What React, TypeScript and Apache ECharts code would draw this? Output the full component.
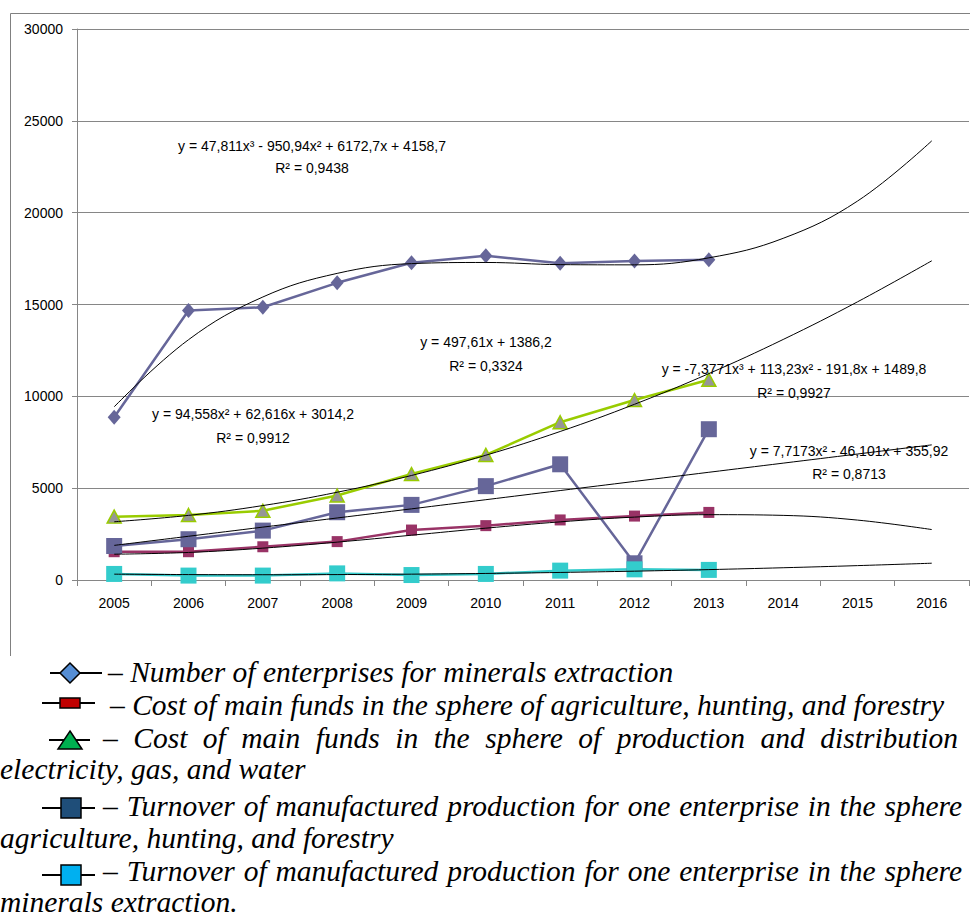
import React, { useEffect, useRef } from "react";
import * as echarts from "echarts";

// ---------- data ----------
const years = ["2005", "2006", "2007", "2008", "2009", "2010", "2011", "2012", "2013", "2014", "2015", "2016"];

const enterprises = [8860, 14670, 14850, 16180, 17270, 17650, 17250, 17370, 17430];
const agriCost = [1540, 1540, 1810, 2090, 2720, 2960, 3270, 3480, 3680];
const energyCost = [3450, 3540, 3770, 4600, 5770, 6810, 8590, 9800, 10900];
const agriTurnover = [1850, 2220, 2690, 3690, 4090, 5110, 6300, 910, 8210];
const minTurnover = [330, 240, 240, 360, 270, 330, 510, 580, 550];

// trend lines (values of the printed trend equations at x = 1..12)
const trendEnterprises = [9428, 13083, 15409, 16694, 17225, 17288, 17171, 17159, 17541, 18603, 20631, 23913];
const trendAgriCost = [1404, 1500, 1734, 2062, 2439, 2822, 3165, 3425, 3557, 3518, 3262, 2746];
const trendEnergyCost = [3171, 3518, 4053, 4778, 5691, 6794, 8086, 9567, 11237, 13096, 15145, 17382];
const trendAgriTurnover = [1884, 2381, 2879, 3377, 3874, 4372, 4870, 5367, 5865, 6362, 6860, 7358];
const trendMinTurnover = [318, 295, 287, 295, 318, 357, 411, 481, 566, 667, 783, 914];

const yMin = 0;
const yMax = 30000;
const yStep = 5000;

const equationTexts = [
  "y = 47,811x³ - 950,94x² + 6172,7x + 4158,7",
  "y = 497,61x + 1386,2",
  "y = 94,558x² + 62,616x + 3014,2",
  "y = -7,3771x³ + 113,23x² - 191,8x + 1489,8",
  "y = 7,7173x² - 46,101x + 355,92",
];
const r2Texts = ["R² = 0,9438", "R² = 0,3324", "R² = 0,9912", "R² = 0,9927", "R² = 0,8713"];

const legendLine1 = "– Number of enterprises for minerals extraction";
const legendLine2 = "– Cost of main funds in the sphere of agriculture, hunting, and forestry";
const legendLine3 = "– Cost of main funds in the sphere of production and distribution";
const legendLine4 = "electricity, gas, and water";
const legendLine5 = "– Turnover of manufactured production for one enterprise in the sphere";
const legendLine6 = "agriculture, hunting, and forestry";
const legendLine7 = "– Turnover of manufactured production for one enterprise in the sphere";
const legendLine8 = "minerals extraction.";

// ---------- layout / style ----------
const CHART_FONT = "'Liberation Sans', Arial, sans-serif";
const LEGEND_FONT = "italic 29.5px 'Liberation Serif', 'Times New Roman', serif";
const GRID_COLOR = "#868686";

// equation label positions (centre x, centre y of equation, centre y of R²)
const eqPos = [
  [312, 146, 168],
  [486, 342, 366],
  [253, 414, 438],
  [794, 369, 393],
  [849, 451, 474],
];

function measure(text: string): number {
  const c = document.createElement("canvas").getContext("2d");
  if (!c) return text.length * 12;
  c.font = LEGEND_FONT;
  return c.measureText(text).width;
}

function plainText(text: string, x: number, y: number): any {
  return {
    type: "text",
    x,
    y,
    silent: true,
    style: {
      text,
      font: LEGEND_FONT,
      fill: "#000",
      align: "left",
      textAlign: "left",
      verticalAlign: "middle",
      textVerticalAlign: "middle",
    },
  };
}

function justified(text: string, x0: number, x1: number, y: number): any[] {
  const words = text.split(" ");
  const widths = words.map(measure);
  const total = widths.reduce((a, b) => a + b, 0);
  const gap = (x1 - x0 - total) / (words.length - 1);
  const out: any[] = [];
  let x = x0;
  words.forEach((w, i) => {
    out.push(plainText(w, x, y));
    x += widths[i] + gap;
  });
  return out;
}

function eqText(text: string, x: number, y: number): any {
  return {
    type: "text",
    x,
    y,
    silent: true,
    z: 100,
    style: {
      text,
      font: `14px ${CHART_FONT}`,
      fill: "#000",
      align: "center",
      textAlign: "center",
      verticalAlign: "middle",
      textVerticalAlign: "middle",
    },
  };
}

const iconStroke = { stroke: "#000", lineWidth: 1.5 };

function legendIcons(): any[] {
  const line = (x1: number, x2: number, y: number) => ({
    type: "line",
    silent: true,
    shape: { x1, y1: y, x2, y2: y },
    style: { stroke: "#000", lineWidth: 2 },
  });
  return [
    line(50, 102, 673),
    {
      type: "polygon",
      silent: true,
      shape: { points: [[70, 663], [80, 673], [70, 683], [60, 673]] },
      style: { fill: "#558ED5", ...iconStroke },
    },
    line(42, 95, 703),
    { type: "rect", silent: true, shape: { x: 60, y: 698, width: 20, height: 10 }, style: { fill: "#C00000", ...iconStroke } },
    line(49, 90, 740),
    {
      type: "polygon",
      silent: true,
      shape: { points: [[70, 731], [82, 749], [58, 749]] },
      style: { fill: "#00B050", ...iconStroke },
    },
    line(42, 95, 808),
    { type: "rect", silent: true, shape: { x: 61, y: 798, width: 20, height: 20 }, style: { fill: "#1F4E79", ...iconStroke } },
    line(42, 95, 875),
    { type: "rect", silent: true, shape: { x: 61, y: 865, width: 20, height: 20 }, style: { fill: "#00B0F0", ...iconStroke } },
  ];
}

function dataSeries(name: string, data: number[], color: string, symbol: string, size: any, item?: any): any {
  return {
    type: "line",
    name,
    data,
    symbol,
    symbolSize: size,
    showAllSymbol: true,
    lineStyle: { color, width: 2.5 },
    itemStyle: item || { color },
    z: 2,
    silent: true,
  };
}

function trendSeries(name: string, data: number[]): any {
  return {
    type: "line",
    name,
    data,
    smooth: 0.4,
    symbol: "none",
    lineStyle: { color: "#000", width: 1 },
    z: 3,
    silent: true,
  };
}

export default function App() {
  const ref = useRef<HTMLDivElement>(null);

  useEffect(() => {
    document.body.style.margin = "0";
    if (!ref.current) return;
    const chart = echarts.init(ref.current, null, { renderer: "svg" });

    const graphics: any[] = [
      {
        type: "polyline",
        silent: true,
        shape: { points: [[10.5, 656], [10.5, 13.5], [975, 13.5]] },
        style: { stroke: "#808080", lineWidth: 1, fill: "none" },
      },
      ...equationTexts.map((t, i) => eqText(t, eqPos[i][0], eqPos[i][1])),
      ...r2Texts.map((t, i) => eqText(t, eqPos[i][0], eqPos[i][2])),
      ...legendIcons(),
      plainText(legendLine1, 108, 672),
      plainText(legendLine2, 110, 705),
      ...justified(legendLine3, 103, 958, 738),
      plainText(legendLine4, 0, 769),
      ...justified(legendLine5, 103, 962, 806),
      plainText(legendLine6, 0, 838),
      ...justified(legendLine7, 103, 962, 871),
      plainText(legendLine8, 0, 902),
    ];

    chart.setOption({
      animation: false,
      backgroundColor: "#fff",
      textStyle: { fontFamily: CHART_FONT },
      grid: { left: 77, top: 29, right: 1, bottom: 339, containLabel: false },
      xAxis: {
        type: "category",
        data: years,
        boundaryGap: true,
        axisLine: { show: true, lineStyle: { color: GRID_COLOR, width: 1 } },
        axisTick: { show: true, length: 6, lineStyle: { color: GRID_COLOR } },
        axisLabel: { color: "#000", fontSize: 14, fontFamily: CHART_FONT, margin: 16, interval: 0 },
        splitLine: { show: false },
      },
      yAxis: {
        type: "value",
        min: yMin,
        max: yMax,
        interval: yStep,
        axisLine: { show: true, lineStyle: { color: GRID_COLOR, width: 1 } },
        axisTick: { show: true, length: 5, lineStyle: { color: GRID_COLOR } },
        axisLabel: {
          color: "#000",
          fontSize: 14,
          fontFamily: CHART_FONT,
          margin: 14,
          formatter: (v: number) => String(v),
        },
        splitLine: { show: true, lineStyle: { color: GRID_COLOR, width: 1 } },
      },
      series: [
        dataSeries("Number of enterprises for minerals extraction", enterprises, "#666699", "diamond", [13, 15]),
        dataSeries("Cost of main funds: agriculture", agriCost, "#993366", "rect", 11),
        dataSeries("Cost of main funds: electricity, gas, water", energyCost, "#99CC00", "triangle", [14, 13], {
          color: "#969696",
          borderColor: "#99CC00",
          borderWidth: 1.5,
        }),
        dataSeries("Turnover per enterprise: agriculture", agriTurnover, "#666699", "rect", 16),
        dataSeries("Turnover per enterprise: minerals extraction", minTurnover, "#33CCCC", "rect", 16),
        trendSeries("Trend enterprises", trendEnterprises),
        trendSeries("Trend agri cost", trendAgriCost),
        trendSeries("Trend energy cost", trendEnergyCost),
        trendSeries("Trend agri turnover", trendAgriTurnover),
        trendSeries("Trend minerals turnover", trendMinTurnover),
      ],
      graphic: { elements: graphics },
    });

    return () => chart.dispose();
  }, []);

  return <div ref={ref} style={{ width: 970, height: 919 }} />;
}
